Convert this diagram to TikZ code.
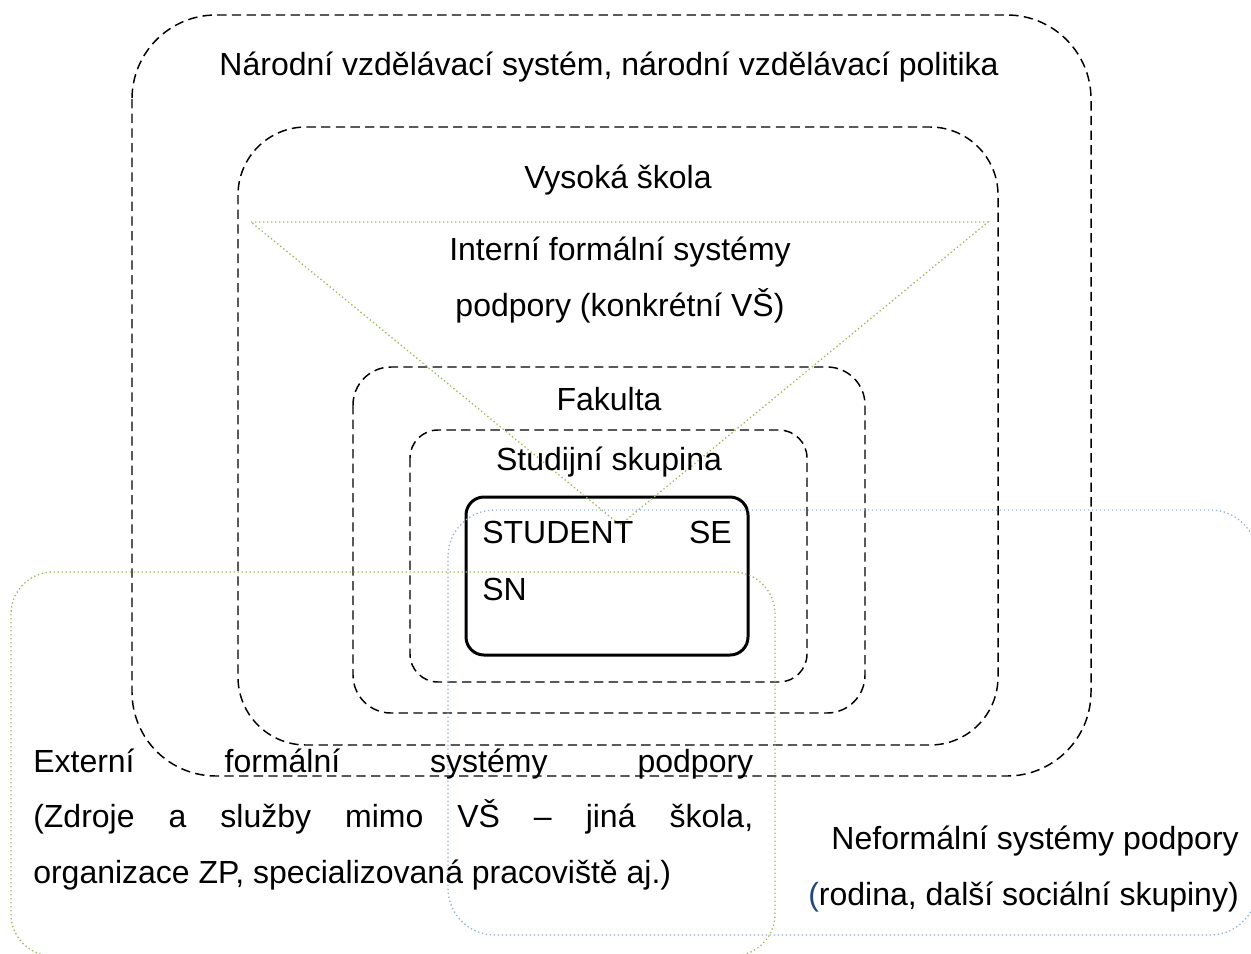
\documentclass[tikz,border=0pt]{standalone}
\usepackage{fontspec}
\setmainfont{Liberation Sans}
\usepackage{xcolor}
\usetikzlibrary{positioning}

\definecolor{olivedot}{HTML}{9BBB59}
\definecolor{bluedot}{HTML}{95B3D7}
\definecolor{navyparen}{HTML}{1F497D}

\begin{document}
\begin{tikzpicture}[
    x=0.75pt, y=-0.75pt,
    level/.style={draw=black, line width=1.1pt, dash pattern=on 7pt off 4pt},
    core/.style={draw=black, line width=2.25pt},
    formal/.style={draw=olivedot, line width=1pt, dash pattern=on 1pt off 2pt},
    informal/.style={draw=bluedot, line width=1pt, dash pattern=on 1pt off 2pt},
    lbl/.style={font={\fontsize{24}{41.5}\selectfont}, inner sep=0pt, anchor=base},
]

\useasboundingbox (0,0) rectangle (1251,953);
\clip (0,0) rectangle (1251,953);

% --- Nested levels ---
\draw[level, rounded corners=63pt] (132,15) rectangle (1091,776);
\draw[level, rounded corners=51pt] (238,127) rectangle (998,745);
\draw[level, rounded corners=28.5pt] (353,367) rectangle (865,713);
\draw[level, rounded corners=21pt] (410,430) rectangle (807,682);
\draw[core, rounded corners=13.5pt] (466,497) rectangle (748,655);

% --- Internal support (triangle) ---
\coordinate (tri-nw) at (251,222);
\coordinate (tri-ne) at (988,222);
\coordinate (tri-s) at (620,525);
\draw[formal] (tri-nw) -- (tri-ne) -- (tri-s) -- cycle;

% --- External and informal support ---
\draw[formal, rounded corners=31.5pt] (11,572) rectangle (775,956);
\draw[informal, rounded corners=35pt] (448,510) rectangle (1257,935);

% Labels (multi-line nodes sit on their last baseline)
\node[lbl] (narodni) at (609,75) {Národní vzdělávací systém, národní vzdělávací politika};
\node[lbl] (vysoka) at (618,188) {Vysoká škola};
\node[lbl, align=center] (interni) at (620,316) {Interní formální systémy\\podpory (konkrétní VŠ)};
\node[lbl] (fakulta) at (609,410) {Fakulta};
\node[lbl] (skupina) at (609,470) {Studijní skupina};
\node[lbl, anchor=base west] (student) at (482,543) {STUDENT};
\node[lbl, anchor=base east] (se) at (732,543) {SE};
\node[lbl, anchor=base west] (sn) at (482,600) {SN};

\node[lbl, anchor=base west, align=left] (externi) at (33,883)
  {\makebox[540pt][s]{Externí formální systémy podpory}\\
   \makebox[540pt][s]{(Zdroje a služby mimo VŠ – jiná škola,}\\
   organizace ZP, specializovaná pracoviště aj.)};
\node[lbl, anchor=base east, align=right] (neformalni) at (1239,905)
  {Neformální systémy podpory\\{\color{navyparen}(}rodina, další sociální skupiny)};

\end{tikzpicture}
\end{document}
